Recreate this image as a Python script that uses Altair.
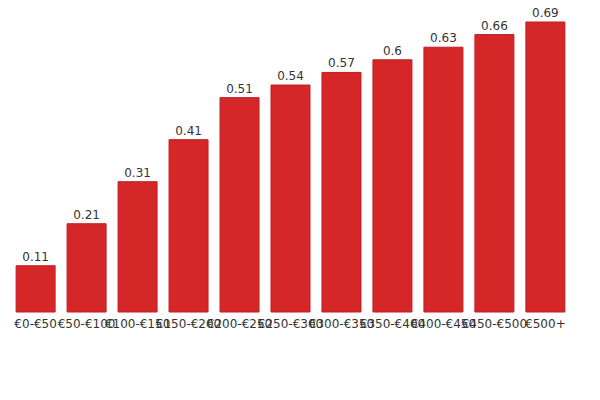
import altair as alt
import pandas as pd

categories = ["€0-€50", "€50-€100", "€100-€150", "€150-€200", "€200-€250",
              "€250-€300", "€300-€350", "€350-€400", "€400-€450", "€450-€500", "€500+"]
values = [0.11, 0.21, 0.31, 0.41, 0.51, 0.54, 0.57, 0.6, 0.63, 0.66, 0.69]

df = pd.DataFrame({"cat": categories, "val": values})

x = alt.X("cat:N", sort=categories, title=None,
          scale=alt.Scale(paddingInner=0.235, paddingOuter=0.12),
          axis=alt.Axis(labelAngle=0, domain=False, ticks=False, labelPadding=6,
                        labelFontSize=12, labelColor="#333333", labelFont="DejaVu Sans",
                        labelOverlap=False))
y = alt.Y("val:Q", title=None, scale=alt.Scale(domain=[0, 0.69], nice=False),
          axis=None)

bars = alt.Chart(df).mark_bar(color="#d62728", stroke="#c11b22", strokeWidth=1).encode(x=x, y=y)
text = alt.Chart(df).mark_text(dy=-9, fontSize=12, color="#333333", font="DejaVu Sans").encode(
    x=alt.X("cat:N", sort=categories), y="val:Q", text=alt.Text("val:Q"))

chart = (bars + text).properties(
    width=561, height=290,
    padding={"left": 2, "top": 14, "right": 21, "bottom": 80},
    autosize=alt.AutoSizeParams(type="none"),
).configure_view(stroke=None)

chart.save("out.html", embed_options={"renderer": "svg", "actions": False})
